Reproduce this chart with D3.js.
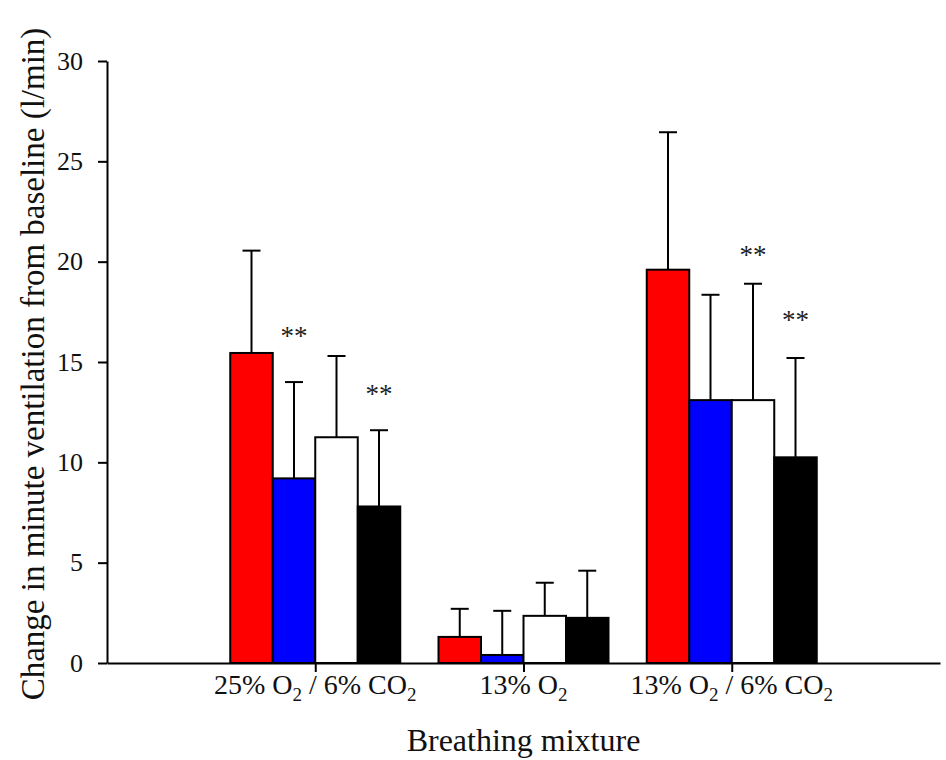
<!DOCTYPE html>
<html>
<head>
<meta charset="utf-8">
<script src="https://cdn.jsdelivr.net/npm/d3@7"></script>
<style>
  html, body { margin: 0; padding: 0; background: #fff; }
  svg { display: block; font-family: "Liberation Serif", "Times New Roman", serif; }
</style>
</head>
<body>
<svg id="chart" width="946" height="760"></svg>
<script>
// Breathing mixtures (x categories); label parts: [text, isSubscript]
const mixtures = ["25% O2 / 6% CO2", "13% O2", "13% O2 / 6% CO2"];
const mixtureLabels = [
  [["25% O", false], ["2", true], [" / 6% CO", false], ["2", true]],
  [["13% O", false], ["2", true]],
  [["13% O", false], ["2", true], [" / 6% CO", false], ["2", true]]
];

// Four series per mixture
const seriesNames = ["red", "blue", "white", "black"];
const seriesColors = ["#ff0000", "#0000ff", "#ffffff", "#000000"];

// Mean change in minute ventilation (l/min), one array per series, by mixture
const meanRed   = [15.45, 1.3, 19.6];
const meanBlue  = [9.2, 0.4, 13.1];
const meanWhite = [11.25, 2.35, 13.1];
const meanBlack = [7.8, 2.25, 10.25];

// Upper error (SD), same layout
const errRed   = [5.1, 1.4, 6.85];
const errBlue  = [4.8, 2.2, 5.25];
const errWhite = [4.05, 1.65, 5.8];
const errBlack = [3.8, 2.35, 4.95];

// Significance markers: mixture, series, level (l/min) of the marker
const sigMixture = ["25% O2 / 6% CO2", "25% O2 / 6% CO2", "13% O2 / 6% CO2", "13% O2 / 6% CO2"];
const sigSeries  = ["blue", "black", "white", "black"];
const sigLevel   = [15.85, 12.95, 19.9, 16.65];
const sigText    = "**";

const yTicks = [0, 5, 10, 15, 20, 25, 30];

const means = [meanRed, meanBlue, meanWhite, meanBlack];
const errs = [errRed, errBlue, errWhite, errBlack];
const rows = [];
mixtures.forEach((m, i) => {
  seriesNames.forEach((s, j) => {
    rows.push({ mixture: m, series: s, color: seriesColors[j], mean: means[j][i], err: errs[j][i] });
  });
});

const svg = d3.select("#chart");
const plotLeft = 107, plotRight = 940, plotTop = 61, plotBottom = 663;

const x = d3.scalePoint().domain(mixtures).range([plotLeft, plotRight]).padding(1);
const xi = d3.scaleBand().domain(seriesNames).range([-85, 85]).padding(0);
const y = d3.scaleLinear().domain([0, 30]).range([plotBottom, plotTop]);

// Bars
svg.append("g").selectAll("rect").data(rows).join("rect")
  .attr("x", d => x(d.mixture) + xi(d.series))
  .attr("y", d => y(d.mean))
  .attr("width", xi.bandwidth())
  .attr("height", d => y(0) - y(d.mean))
  .attr("fill", d => d.color)
  .attr("stroke", "#000")
  .attr("stroke-width", 2);

// Error bars (upper only)
const eb = svg.append("g").attr("stroke", "#000").attr("stroke-width", 2);
eb.selectAll("line.v").data(rows).join("line").attr("class", "v")
  .attr("x1", d => x(d.mixture) + xi(d.series) + xi.bandwidth() / 2)
  .attr("x2", d => x(d.mixture) + xi(d.series) + xi.bandwidth() / 2)
  .attr("y1", d => y(d.mean))
  .attr("y2", d => y(d.mean + d.err));
eb.selectAll("line.c").data(rows).join("line").attr("class", "c")
  .attr("x1", d => x(d.mixture) + xi(d.series) + xi.bandwidth() / 2 - 9)
  .attr("x2", d => x(d.mixture) + xi(d.series) + xi.bandwidth() / 2 + 9)
  .attr("y1", d => y(d.mean + d.err))
  .attr("y2", d => y(d.mean + d.err));

// Significance asterisks
svg.append("g").selectAll("text").data(sigLevel).join("text")
  .attr("x", (v, i) => x(sigMixture[i]) + xi(sigSeries[i]) + xi.bandwidth() / 2)
  .attr("y", v => y(v))
  .attr("text-anchor", "middle")
  .attr("font-size", 27)
  .attr("fill", "#222")
  .text(sigText);

// Y axis
const yAxis = svg.append("g")
  .attr("transform", `translate(${plotLeft},0)`)
  .call(d3.axisLeft(y).tickValues(yTicks).tickSize(9).tickPadding(15).tickSizeOuter(0));
yAxis.select(".domain").attr("stroke-width", 2);
yAxis.selectAll(".tick line").attr("stroke-width", 2);
yAxis.selectAll(".tick text").attr("font-size", 26).attr("font-family", "Liberation Serif").attr("fill", "#111");

// X axis
const xAxis = svg.append("g")
  .attr("transform", `translate(0,${plotBottom})`)
  .call(d3.axisBottom(x).tickSize(9).tickSizeOuter(0).tickFormat(""));
xAxis.select(".domain").attr("stroke-width", 2);
xAxis.selectAll(".tick line").attr("stroke-width", 2);

// Category labels with subscripts
const cl = svg.append("g").selectAll("text").data(mixtures).join("text")
  .attr("x", d => x(d))
  .attr("y", 694)
  .attr("text-anchor", "middle")
  .attr("font-size", 28)
  .attr("fill", "#111");
cl.each(function (d, i) {
  const t = d3.select(this);
  mixtureLabels[i].forEach(([s, sub], k) => {
    const ts = t.append("tspan").text(s);
    if (sub) ts.attr("font-size", 19).attr("dy", 7);
    else if (k > 0) ts.attr("dy", -7);
  });
});

// Axis titles
svg.append("text")
  .attr("x", (plotLeft + plotRight) / 2 + 0)
  .attr("y", 751)
  .attr("text-anchor", "middle")
  .attr("font-size", 32)
  .attr("fill", "#111")
  .text("Breathing mixture");

svg.append("text")
  .attr("transform", `translate(44,364) rotate(-90)`)
  .attr("text-anchor", "middle")
  .attr("font-size", 33)
  .attr("fill", "#111")
  .text("Change in minute ventilation from baseline (l/min)");
</script>
</body>
</html>
